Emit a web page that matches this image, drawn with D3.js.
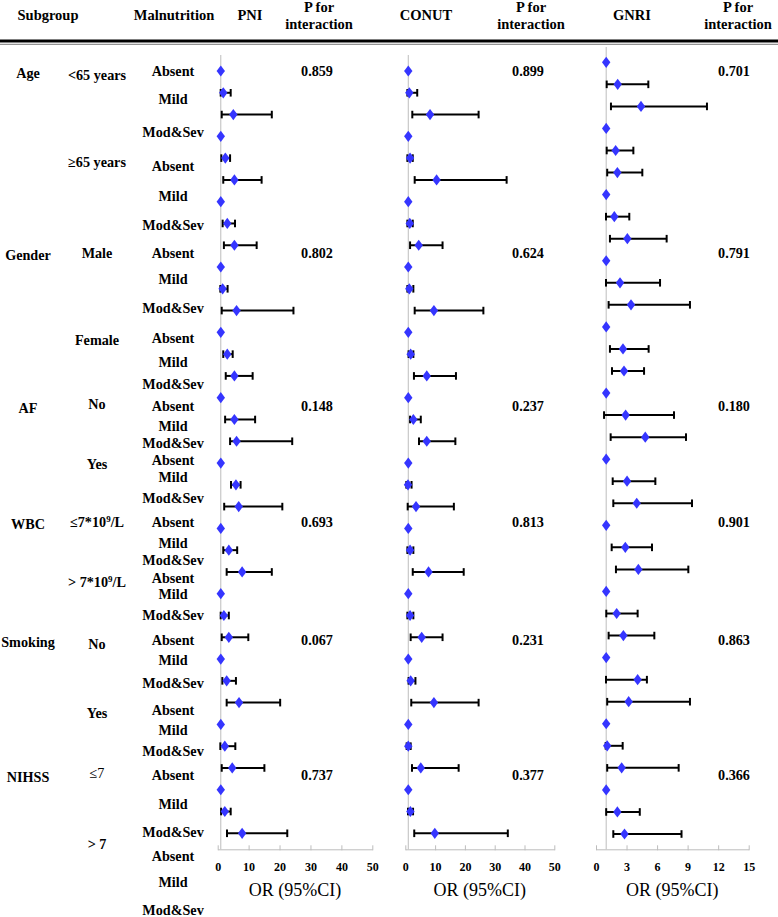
<!DOCTYPE html>
<html>
<head>
<meta charset="utf-8">
<script src="https://cdn.jsdelivr.net/npm/d3@7"></script>
<style>
  html, body { margin: 0; padding: 0; background: #fff; }
  svg { display: block; }
  text { font-family: "Liberation Serif", "Times New Roman", serif; fill: #000; }
</style>
</head>
<body>
<svg id="chart" width="778" height="917"></svg>
<script>
// ---------------- DATA ----------------
const subgroups = ["Age", "Gender", "AF", "WBC", "Smoking", "NIHSS"];
const levels = ["<65 years", "≥65 years", "Male", "Female", "No", "Yes",
                "≤7*10|9|/L", "> 7*10|9|/L", "No", "Yes", "≤7", "> 7"];
const grades = ["Absent", "Mild", "Mod&Sev"];

const pniOR = [1, 1.8, 5.05, 1, 2.47, 5.4, 1, 3.1, 5.4, 1, 1.6, 6.1,
               1, 3.1, 5.4, 1, 5.4, 6.1, 1, 5.9, 6.8, 1, 3.6, 7.9,
               1, 2.0, 3.6, 1, 2.9, 6.9, 1, 2.3, 4.7, 1, 2.3, 7.9];
const pniLo = [null, 0.97, 1.3, null, 1.17, 1.8, null, 1.6, 2.0, null, 0.85, 1.3,
               null, 1.8, 2.6, null, 2.4, 4.0, null, 4.3, 2.1, null, 1.8, 2.9,
               null, 0.97, 1.3, null, 1.5, 2.9, null, 0.85, 1.3, null, 1.1, 3.0];
const pniHi = [null, 4.2, 17.5, null, 4.0, 14.2, null, 5.6, 12.6, null, 3.2, 24.5,
               null, 4.85, 11.3, null, 12.1, 24.1, null, 7.4, 20.9, null, 6.3, 17.5,
               null, 3.6, 9.9, null, 5.9, 20.2, null, 5.7, 15.1, null, 4.2, 22.5];

const conutOR = [1, 1.35, 8.3, 1, 1.6, 10.5, 1, 1.5, 4.5, 1, 1.35, 9.6,
                 1, 1.8, 7.2, 1, 2.7, 7.2, 1, 0.9, 3.6, 1, 1.6, 7.8,
                 1, 1.6, 5.5, 1, 1.8, 9.6, 1, 1.0, 5.2, 1, 1.7, 9.9];
const conutLo = [null, 0.7, 2.35, null, 0.7, 3.15, null, 0.7, 1.6, null, 0.7, 3.15,
                 null, 1.1, 2.9, null, 1.6, 4.6, null, 0.35, 0.8, null, 0.7, 2.5,
                 null, 0.7, 1.8, null, 1.1, 2.0, null, 0.45, 2.25, null, 0.9, 3.0];
const conutHi = [null, 4.0, 24.6, null, 2.5, 34.0, null, 2.5, 12.5, null, 2.7, 26.2,
                 null, 2.7, 17.0, null, 5.2, 16.8, null, 2.1, 16.3, null, 2.7, 19.6,
                 null, 2.7, 12.5, null, 3.4, 24.6, null, 1.8, 17.9, null, 2.6, 34.4];

const gnriOR = [1, 2.13, 4.42, 1, 1.93, 2.1, 1, 1.8, 3.08, 1, 2.36, 3.44,
                1, 2.65, 2.75, 1, 2.91, 4.84, 1, 3.05, 4.0, 1, 2.88, 4.16,
                1, 2.03, 2.69, 1, 4.09, 3.21, 1, 1.1, 2.52, 1, 2.1, 2.8];
const gnriLo = [null, 1.05, 1.47, null, 1.05, 1.1, null, 0.98, 1.37, null, 0.98, 1.24,
                null, 1.37, 1.57, null, 0.79, 1.44, null, 1.64, 1.7, null, 1.54, 1.96,
                null, 1.01, 1.24, null, 0.98, 1.1, null, 0.95, 1.1, null, 1.0, 1.7];
const gnriHi = [null, 5.14, 10.9, null, 3.67, 4.55, null, 3.27, 6.94, null, 6.29, 9.23,
                null, 5.17, 4.72, null, 7.66, 8.84, null, 5.83, 9.43, null, 5.5, 9.07,
                null, 4.09, 5.73, null, 5.0, 9.23, null, 2.62, 8.12, null, 4.3, 8.4];

const pPNI   = ["0.859", "0.802", "0.148", "0.693", "0.067", "0.737"];
const pCONUT = ["0.899", "0.624", "0.237", "0.813", "0.231", "0.377"];
const pGNRI  = ["0.701", "0.791", "0.180", "0.901", "0.863", "0.366"];

const pniTicks = [0, 10, 20, 30, 40, 50];
const conutTicks = [0, 10, 20, 30, 40, 50];
const gnriTicks = [0, 3, 6, 9, 12, 15];
const axisTitle = "OR (95%CI)";

// ---------------- LAYOUT (text placement only) ----------------
const subgroupY = [73, 255, 408, 524, 642, 777];
const levelY = [75.5, 162.5, 253.5, 340, 404.5, 464, 522, 582, 644, 713.5, 773.5, 844];
const gradeY = [71, 99, 132.5, 166.5, 196.5, 225, 253.5, 279.5, 308.5, 338.5, 362.5, 384,
                406.5, 426, 443.5, 460.5, 477.5, 498.5, 522.5, 543, 560, 578, 594.5, 615.5,
                640, 660.5, 683.5, 710, 730.5, 751.5, 775.5, 804, 832.5, 856.5, 882.5, 910.5];
const pY = [71, 253.5, 406.5, 522.5, 640, 775.5];

const svg = d3.select("#chart");
const FONT = '"Liberation Serif", "Times New Roman", serif';

// Header
const header = svg.append("g").attr("font-weight", "bold").attr("font-size", 14.5)
  .attr("text-anchor", "middle");
[["Subgroup", 48, 15], ["Malnutrition", 174, 15], ["PNI", 250, 15],
 ["CONUT", 426, 15], ["GNRI", 632, 15]].forEach(([t, x, y]) => {
  header.append("text").attr("x", x).attr("y", y).attr("dy", "0.35em").text(t);
});
[319, 531, 738].forEach(x => {
  header.append("text").attr("x", x).attr("y", 7).attr("dy", "0.35em").text("P for");
  header.append("text").attr("x", x).attr("y", 23.5).attr("dy", "0.35em").text("interaction");
});
svg.append("line").attr("x1", 0).attr("x2", 778).attr("y1", 41).attr("y2", 41)
  .attr("stroke", "#000").attr("stroke-width", 3);
svg.append("line").attr("x1", 0).attr("x2", 778).attr("y1", 44.3).attr("y2", 44.3)
  .attr("stroke", "#555").attr("stroke-width", 0.8);

// Left labels
const lab = svg.append("g").attr("font-weight", "bold").attr("font-size", 14.2)
  .attr("text-anchor", "middle");
subgroups.forEach((s, i) => {
  lab.append("text").attr("x", 28).attr("y", subgroupY[i]).attr("dy", "0.35em").text(s);
});
levels.forEach((s, i) => {
  const t = lab.append("text").attr("x", 97).attr("y", levelY[i]).attr("dy", "0.35em");
  if (s === "≤7") t.attr("font-weight", "normal");
  const parts = s.split("|");
  if (parts.length === 3) {
    t.append("tspan").text(parts[0]);
    t.append("tspan").attr("font-size", 9).attr("dy", "-5").text(parts[1]);
    t.append("tspan").attr("dy", "5").text(parts[2]);
  } else {
    t.text(s);
  }
});
gradeY.forEach((y, i) => {
  lab.append("text").attr("x", 173).attr("y", y).attr("dy", "0.35em").text(grades[i % 3]);
});

// Panels
const panels = [
  { or: pniOR, lo: pniLo, hi: pniHi, p: pPNI, ticks: pniTicks, domain: [0, 50],
    range: [217.7, 372.3], yr: [71, 833.3], top: 55, px: 317 },
  { or: conutOR, lo: conutLo, hi: conutHi, p: pCONUT, ticks: conutTicks, domain: [0, 50],
    range: [405.3, 554.3], yr: [71, 833.3], top: 55, px: 528 },
  { or: gnriOR, lo: gnriLo, hi: gnriHi, p: pGNRI, ticks: gnriTicks, domain: [0, 15],
    range: [596, 748.7], yr: [62.3, 834], top: 47, px: 734 }
];
const axisY = 849.3;
const diamond = "M0,-5.6L4.2,0L0,5.6L-4.2,0Z";

panels.forEach(pn => {
  const x = d3.scaleLinear().domain(pn.domain).range(pn.range);
  const y = d3.scaleLinear().domain([0, pn.or.length - 1]).range(pn.yr);
  const g = svg.append("g");

  // axis
  const ax = g.append("g").attr("transform", `translate(0,${axisY})`)
    .call(d3.axisBottom(x).tickValues(pn.ticks).tickSize(0).tickPadding(13));
  ax.select(".domain").attr("stroke", "#bdbdbd").attr("stroke-width", 1);
  ax.selectAll(".tick line").remove();
  ax.selectAll(".tick").append("line").attr("y1", -4).attr("y2", 1)
    .attr("stroke", "#bdbdbd").attr("stroke-width", 1);
  ax.selectAll(".tick text").attr("font-family", FONT).attr("font-weight", "bold")
    .attr("font-size", 12).attr("fill", "#000");
  ax.attr("font-family", FONT);

  g.append("text").attr("x", (pn.range[0] + pn.range[1]) / 2).attr("y", 890)
    .attr("dy", "0.35em").attr("text-anchor", "middle").attr("font-size", 18)
    .text(axisTitle);

  // reference line at OR = 1
  g.append("line").attr("x1", x(1)).attr("x2", x(1)).attr("y1", pn.top).attr("y2", axisY)
    .attr("stroke", "#bdbdbd").attr("stroke-width", 1);

  // CIs
  const rows = pn.or.map((v, i) => ({ i, or: v, lo: pn.lo[i], hi: pn.hi[i] }));
  const ci = rows.filter(d => d.lo !== null);
  g.selectAll(".ci").data(ci).join("line")
    .attr("x1", d => x(d.lo)).attr("x2", d => x(d.hi))
    .attr("y1", d => y(d.i)).attr("y2", d => y(d.i))
    .attr("stroke", "#000").attr("stroke-width", 2);
  ["lo", "hi"].forEach(k => {
    g.selectAll(".cap-" + k).data(ci).join("line")
      .attr("x1", d => x(d[k])).attr("x2", d => x(d[k]))
      .attr("y1", d => y(d.i) - 3.8).attr("y2", d => y(d.i) + 3.8)
      .attr("stroke", "#000").attr("stroke-width", 2);
  });

  // points
  g.selectAll(".pt").data(rows).join("path")
    .attr("d", diamond)
    .attr("transform", d => `translate(${x(d.or)},${y(d.i)})`)
    .attr("fill", "#3535ff");

  // p values
  g.selectAll(".pv").data(pn.p).join("text")
    .attr("x", pn.px).attr("y", (d, i) => pY[i]).attr("dy", "0.35em")
    .attr("text-anchor", "middle").attr("font-weight", "bold").attr("font-size", 14.2)
    .text(d => d);
});
</script>
</body>
</html>
